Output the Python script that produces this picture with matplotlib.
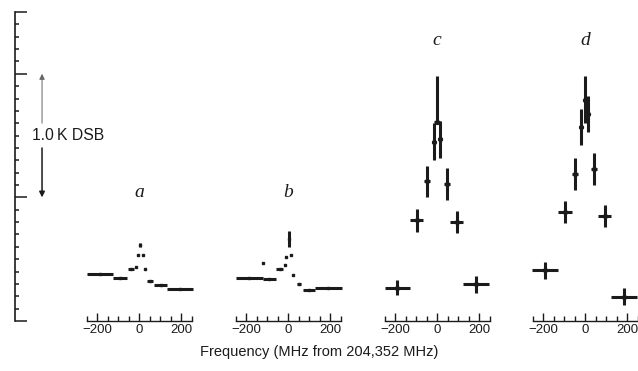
import matplotlib.pyplot as plt
from matplotlib.ticker import FixedLocator

plt.rcParams['font.family'] = ['Liberation Sans', 'DejaVu Sans']

# spectra: channel centre (MHz), half channel width (MHz),
# antenna temperature (K) and error bar (K)
a_freq = [-184, -90, -38, -14, -6, 6, 18, 30, 52, 103, 197]
a_half = [62, 32, 16, 2, 2, 2, 2, 2, 16, 32, 62]
a_temp = [0.38, 0.35, 0.42, 0.44, 0.53, 0.615, 0.53, 0.42, 0.325, 0.293, 0.26]
a_err = [0, 0, 0, 0, 0, 0.02, 0, 0, 0, 0, 0]

b_freq = [-184, -90, -120, -40, -14, -10, 3, 13, 25, 51, 99, 192]
b_half = [63, 31, 2, 16, 3, 2, 2, 2, 2, 10, 29, 63]
b_temp = [0.344, 0.336, 0.47, 0.42, 0.45, 0.52, 0.665, 0.53, 0.37, 0.30, 0.25, 0.266]
b_err = [0, 0, 0, 0, 0, 0, 0.065, 0, 0, 0, 0, 0]

c_freq = [-189, -97, -46, -16, 0, 16, 46, 94, 186]
c_half = [60, 32, 15, 8, 16, 8, 15, 32, 63]
c_temp = [0.27, 0.815, 1.13, 1.45, 1.61, 1.47, 1.11, 0.80, 0.296]
c_err_lo = [0.06, 0.094, 0.128, 0.15, 0.0, 0.15, 0.13, 0.09, 0.067]
c_err_hi = [0.06, 0.094, 0.128, 0.15, 0.37, 0.15, 0.13, 0.09, 0.067]

d_freq = [-190, -95, -48, -18, 0, 16, 44, 94, 186]
d_half = [63, 32, 15, 5, 3, 5, 15, 32, 62]
d_temp = [0.41, 0.88, 1.19, 1.57, 1.79, 1.675, 1.23, 0.847, 0.196]
d_err = [0.07, 0.09, 0.13, 0.145, 0.19, 0.148, 0.13, 0.09, 0.067]

labels = ['a', 'b', 'c', 'd']
label_y = [0.417, 0.417, 0.909, 0.909]
centres = [139, 288, 437, 585]   # pixel x of 0 MHz in each panel

W, H = 638, 371
ink = '#1b1b1b'


def box(x0, x1, y0, y1):
    return [x0 / W, 1 - y1 / H, (x1 - x0) / W, (y1 - y0) / H]


fig = plt.figure(figsize=(6.38, 3.71), dpi=100)

# temperature scale on the left
ax0 = fig.add_axes(box(15, 130, 12, 321))
ax0.set_ylim(0, 2.5)
ax0.set_xlim(0, 1)
ax0.patch.set_alpha(0)
for s in ['right', 'top', 'bottom']:
    ax0.spines[s].set_visible(False)
ax0.spines['left'].set_linewidth(1.2)
ax0.spines['left'].set_color(ink)
ax0.set_xticks([])
ax0.set_yticks([0, 1, 2, 2.5])
ax0.set_yticklabels([])
ax0.yaxis.set_minor_locator(FixedLocator([i / 10 for i in range(26)]))
ax0.tick_params(axis='y', which='major', direction='in', length=8.5, width=1.1, color=ink)
ax0.tick_params(axis='y', which='minor', direction='in', length=3, width=1.1, color=ink)

ax0.text(0.148, 1.5, '1.0\u2009K DSB', fontsize=11.3, ha='left', va='center', color=ink)
ax0.annotate('', xy=(0.235, 2.0), xytext=(0.235, 1.6),
             xycoords=('axes fraction', 'data'), textcoords=('axes fraction', 'data'),
             arrowprops=dict(arrowstyle='-|>', lw=0.7, color='#666666', mutation_scale=8,
                             shrinkA=0, shrinkB=0))
ax0.annotate('', xy=(0.235, 1.0), xytext=(0.235, 1.4),
             xycoords=('axes fraction', 'data'), textcoords=('axes fraction', 'data'),
             arrowprops=dict(arrowstyle='-|>', lw=1.1, color=ink, mutation_scale=8,
                             shrinkA=0, shrinkB=0))

panels = [
    (a_freq, a_half, a_temp, [a_err, a_err]),
    (b_freq, b_half, b_temp, [b_err, b_err]),
    (c_freq, c_half, c_temp, [c_err_lo, c_err_hi]),
    (d_freq, d_half, d_temp, [d_err, d_err]),
]

for i, (fq, hw, tt, ee) in enumerate(panels):
    c = centres[i]
    ax = fig.add_axes(box(c - 52.5, c + 52.5, 12, 321))
    ax.set_xlim(-250, 250)
    ax.set_ylim(0, 2.5)
    ax.patch.set_alpha(0)
    for s in ['left', 'right', 'top']:
        ax.spines[s].set_visible(False)
    ax.spines['bottom'].set_linewidth(1)
    ax.spines['bottom'].set_color(ink)
    ax.set_yticks([])
    ax.set_xticks([-200, 0, 200])
    ax.set_xticklabels(['\u2212200', '0', '200'])
    ax.xaxis.set_minor_locator(FixedLocator([-250, -150, -100, -50, 50, 100, 150, 250]))
    ax.tick_params(axis='x', which='major', direction='in', length=6, width=1,
                   color=ink, labelsize=9.5, labelcolor=ink, pad=2)
    ax.tick_params(axis='x', which='minor', direction='in', length=3.5, width=1, color=ink)

    if i < 2:
        ax.errorbar(fq, tt, xerr=hw, yerr=ee, fmt='s', ms=1.8, color=ink,
                    elinewidth=2.2, capsize=0, clip_on=False)
    else:
        ax.errorbar(fq, tt, xerr=hw, yerr=ee, fmt='o', ms=2.8, color=ink,
                    elinewidth=2.2, capsize=0, clip_on=False)

    ax.text(0.5, label_y[i], labels[i], transform=ax.transAxes, ha='center', va='center',
            fontsize=14, style='italic', family='Liberation Serif', color=ink)

fig.text(319 / W, 1 - 352 / H, 'Frequency (MHz from 204,352 MHz)', ha='center',
         va='center', fontsize=10.5, color=ink)

fig.savefig('out.png', dpi=100)
